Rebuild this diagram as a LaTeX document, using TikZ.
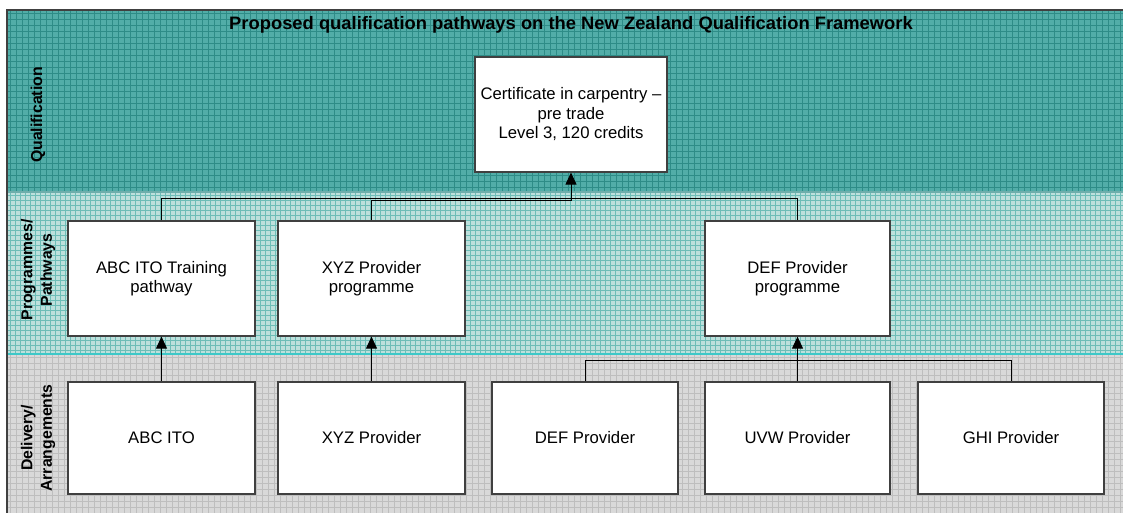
\documentclass[tikz,border=0pt]{standalone}
\usepackage{fontspec}
\setmainfont{Liberation Sans}
\usetikzlibrary{arrows.meta}
\definecolor{qualbg}{HTML}{52ADA8}
\definecolor{qualgrid}{HTML}{2E8C87}
\definecolor{progbg}{HTML}{BDE0DC}
\definecolor{progrid}{HTML}{6DBDB7}
\definecolor{delbg}{HTML}{D9D9D9}
\definecolor{delgrid}{HTML}{BEBEBE}
\definecolor{boxline}{HTML}{404040}
\definecolor{sepline}{HTML}{3CC8C8}
\tikzset{
  box/.style={draw=boxline, line width=1.2pt, fill=white, minimum width=187pt, minimum height=115pt, inner sep=2pt, align=center, font=\fontsize{16.7}{19.5}\selectfont},
  dbox/.style={box, minimum height=112pt},
  sidelabel/.style={rotate=90, align=center, font=\fontsize{15.8}{19.5}\selectfont\bfseries},
  conn/.style={draw=black, line width=1pt},
  arr/.style={conn, -{Triangle[length=12pt,width=11pt]}},
}
\begin{document}
\begin{tikzpicture}[x=1pt,y=-1pt]
\useasboundingbox (0,0) rectangle (1123,513);
% bands
\fill[qualbg] (7,10) rectangle (1123,192);
\begin{scope}
\clip (7,10) rectangle (1123,192);
\foreach \i in {10,16,...,1123} \draw[qualgrid, line width=0.5pt] (\i,10) -- (\i,192);
\foreach \j in {13,19,...,192} \draw[qualgrid, line width=0.5pt] (7,\j) -- (1123,\j);
\end{scope}
\fill[progbg] (7,192) rectangle (1123,354);
\begin{scope}
\clip (7,192) rectangle (1123,354);
\foreach \i in {10,15,...,1123} \draw[progrid, line width=0.4pt] (\i,192) -- (\i,354);
\foreach \j in {195,200,...,354} \draw[progrid, line width=0.4pt] (7,\j) -- (1123,\j);
\end{scope}
\fill[delbg] (7,354) rectangle (1123,513);
\begin{scope}
\clip (7,354) rectangle (1123,513);
\foreach \i in {10,16,...,1123} \draw[delgrid, line width=0.4pt] (\i,354) -- (\i,513);
\foreach \j in {357,363,...,513} \draw[delgrid, line width=0.4pt] (7,\j) -- (1123,\j);
\end{scope}
\draw[sepline, line width=1.2pt] (7,354) -- (1123,354);
\draw[qualgrid!70!white, line width=1.5pt] (7,192) -- (1123,192);
\draw[boxline, line width=1.2pt] (7,513) -- (7,10) -- (1123,10);
% title and side labels
\node[font=\fontsize{18}{20}\selectfont\bfseries, xscale=1.02] (title) at (571,24.5) {Proposed qualification pathways on the New Zealand Qualification Framework};
\node[sidelabel] (lq) at (38,115) {Qualification};
\node[sidelabel] (lp) at (38,270) {Programmes/\\Pathways};
\node[sidelabel] (ld) at (38,438) {Delivery/\\Arrangements};
% boxes
\node[box, minimum width=192pt] (cert) at (571,114.5) {Certificate in carpentry --\\pre trade\\Level 3, 120 credits};
\node[box] (abcp) at (161.5,278.5) {ABC ITO Training\\pathway};
\node[box] (xyzp) at (371.5,278.5) {XYZ Provider\\programme};
\node[box, minimum width=185pt] (defp) at (797.5,278.5) {DEF Provider\\programme};
\node[dbox] (abc) at (161.5,438) {ABC ITO};
\node[dbox] (xyz) at (371.5,438) {XYZ Provider};
\node[dbox, minimum width=186pt] (def) at (585,438) {DEF Provider};
\node[dbox, minimum width=185pt] (uvw) at (797.5,438) {UVW Provider};
\node[dbox, minimum width=186pt] (ghi) at (1011,438) {GHI Provider};
% connectors
\draw[arr] (abc.north) -- (abcp.south);
\draw[arr] (xyz.north) -- (xyzp.south);
\draw[arr] (uvw.north) -- (defp.south);
\draw[conn] (def.north) -- ++(0,-21) -| (ghi.north);
\draw[conn] (abcp.north) -- ++(0,-22) -| (defp.north);
\draw[arr] (xyzp.north) -- ++(0,-20) -| (cert.south);
\end{tikzpicture}
\end{document}
